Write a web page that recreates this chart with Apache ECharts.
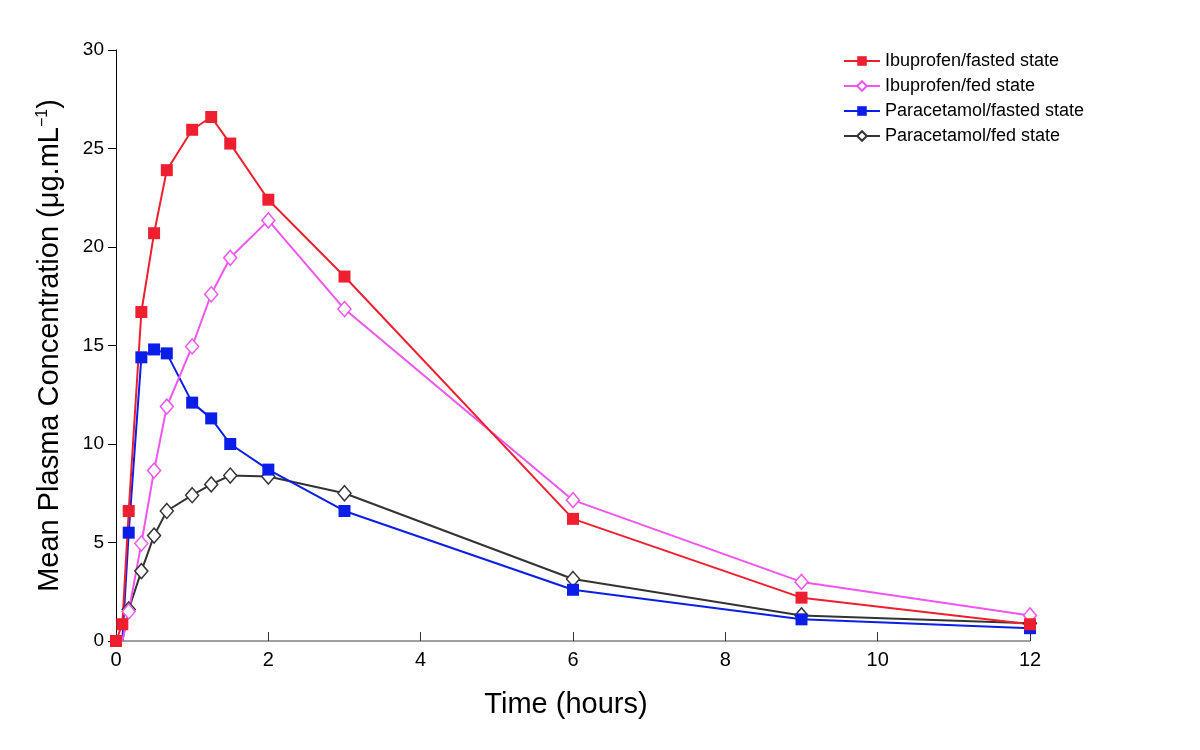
<!DOCTYPE html>
<html>
<head>
<meta charset="utf-8">
<script src="https://cdn.jsdelivr.net/npm/echarts@6/dist/echarts.min.js"></script>
<style>html,body{margin:0;padding:0;background:#fff}#c{width:1200px;height:750px}</style>
</head>
<body>
<div id="c"></div>
<script>
const timesFasted = [0, 0.083, 0.167, 0.333, 0.5, 0.667, 1, 1.25, 1.5, 2, 3, 6, 9, 12];
const timesFed = [0.083, 0.167, 0.333, 0.5, 0.667, 1, 1.25, 1.5, 2, 3, 6, 9, 12];
const ibuFasted = [0, 0.85, 6.6, 16.7, 20.7, 23.9, 25.95, 26.6, 25.25, 22.4, 18.5, 6.2, 2.2, 0.85];
const ibuFed = [0, 1.5, 4.95, 8.65, 11.9, 14.95, 17.6, 19.45, 21.35, 16.85, 7.15, 3.0, 1.3];
const paraFasted = [0, 5.5, 14.4, 14.8, 14.6, 12.1, 11.3, 10.0, 8.7, 6.6, 2.6, 1.1, 0.65];
const paraFed = [0, 1.6, 3.55, 5.35, 6.6, 7.4, 7.95, 8.4, 8.35, 7.5, 3.15, 1.3, 0.9];
const xTicks = [0, 2, 4, 6, 8, 10, 12];
const yTicks = [0, 5, 10, 15, 20, 25, 30];

function pairs(ts, vs, hideFirst) {
  return ts.map((t, i) => {
    const item = { value: [t, vs[i]] };
    if (hideFirst && i === 0) item.symbol = 'none';
    return item;
  });
}

const FONT = 'Liberation Sans, Arial, sans-serif';
const chart = echarts.init(document.getElementById('c'), null, { renderer: 'canvas' });

function series(name, ts, vs, color, filled, hideFirst) {
  return {
    name: name,
    type: 'line',
    data: pairs(ts, vs, hideFirst),
    symbol: filled ? 'rect' : 'diamond',
    symbolSize: filled ? 12 : [13, 15],
    lineStyle: { color: color, width: 2 },
    itemStyle: { color: filled ? color : '#ffffff', borderColor: color, borderWidth: filled ? 0 : 1.5 },
    emphasis: { disabled: true },
    animation: false
  };
}

chart.setOption({
  animation: false,
  backgroundColor: '#ffffff',
  grid: { left: 116, right: 170, top: 50, bottom: 109, containLabel: false },
  legend: {
    orient: 'vertical',
    left: 838,
    top: 47,
    itemWidth: 36,
    itemHeight: 12,
    itemGap: 7,
    textStyle: { fontFamily: FONT, fontSize: 18, color: '#000', padding: [0, 0, 0, 0] },
    data: ['Ibuprofen/fasted state', 'Ibuprofen/fed state', 'Paracetamol/fasted state', 'Paracetamol/fed state']
  },
  xAxis: {
    type: 'value',
    min: 0, max: 12, interval: 2,
    name: 'Time (hours)',
    nameLocation: 'middle',
    nameGap: 49,
    nameTextStyle: { fontFamily: 'Liberation Sans Narrow, ' + FONT, fontSize: 29, color: '#000', padding: [0, 14, 0, 0] },
    axisLine: { show: true, lineStyle: { color: '#808080', width: 1.5 } },
    axisTick: { show: true, inside: true, length: 9, lineStyle: { color: '#333', width: 1 } },
    axisLabel: { fontFamily: 'Liberation Sans Narrow, ' + FONT, fontSize: 20, color: '#000', margin: 9,
      formatter: v => xTicks.includes(v) ? String(v) : '' },
    splitLine: { show: false }
  },
  yAxis: {
    type: 'value',
    min: 0, max: 30, interval: 5,
    name: 'Mean Plasma Concentration (μg.mL{sup|−1})',
    nameLocation: 'middle',
    nameGap: 52,
    nameTextStyle: { fontFamily: FONT, fontSize: 29, color: '#000',
      rich: { sup: { fontFamily: FONT, fontSize: 16, color: '#000', verticalAlign: 'top', padding: [0, 0, 12, 0] } } },
    axisLine: { show: true, lineStyle: { color: '#000', width: 1 } },
    axisTick: { show: true, inside: false, length: 8, lineStyle: { color: '#000', width: 1 } },
    axisLabel: { fontFamily: FONT, fontSize: 19, color: '#000', margin: 12,
      formatter: v => yTicks.includes(v) ? String(v) : '' },
    splitLine: { show: false }
  },
  series: [
    series('Paracetamol/fed state', timesFed, paraFed, '#333333', false, true),
    series('Paracetamol/fasted state', timesFed, paraFasted, '#0a1ee8', true, true),
    series('Ibuprofen/fed state', timesFed, ibuFed, '#f055f0', false, true),
    series('Ibuprofen/fasted state', timesFasted, ibuFasted, '#ee2030', true, false)
  ]
});
</script>
</body>
</html>
